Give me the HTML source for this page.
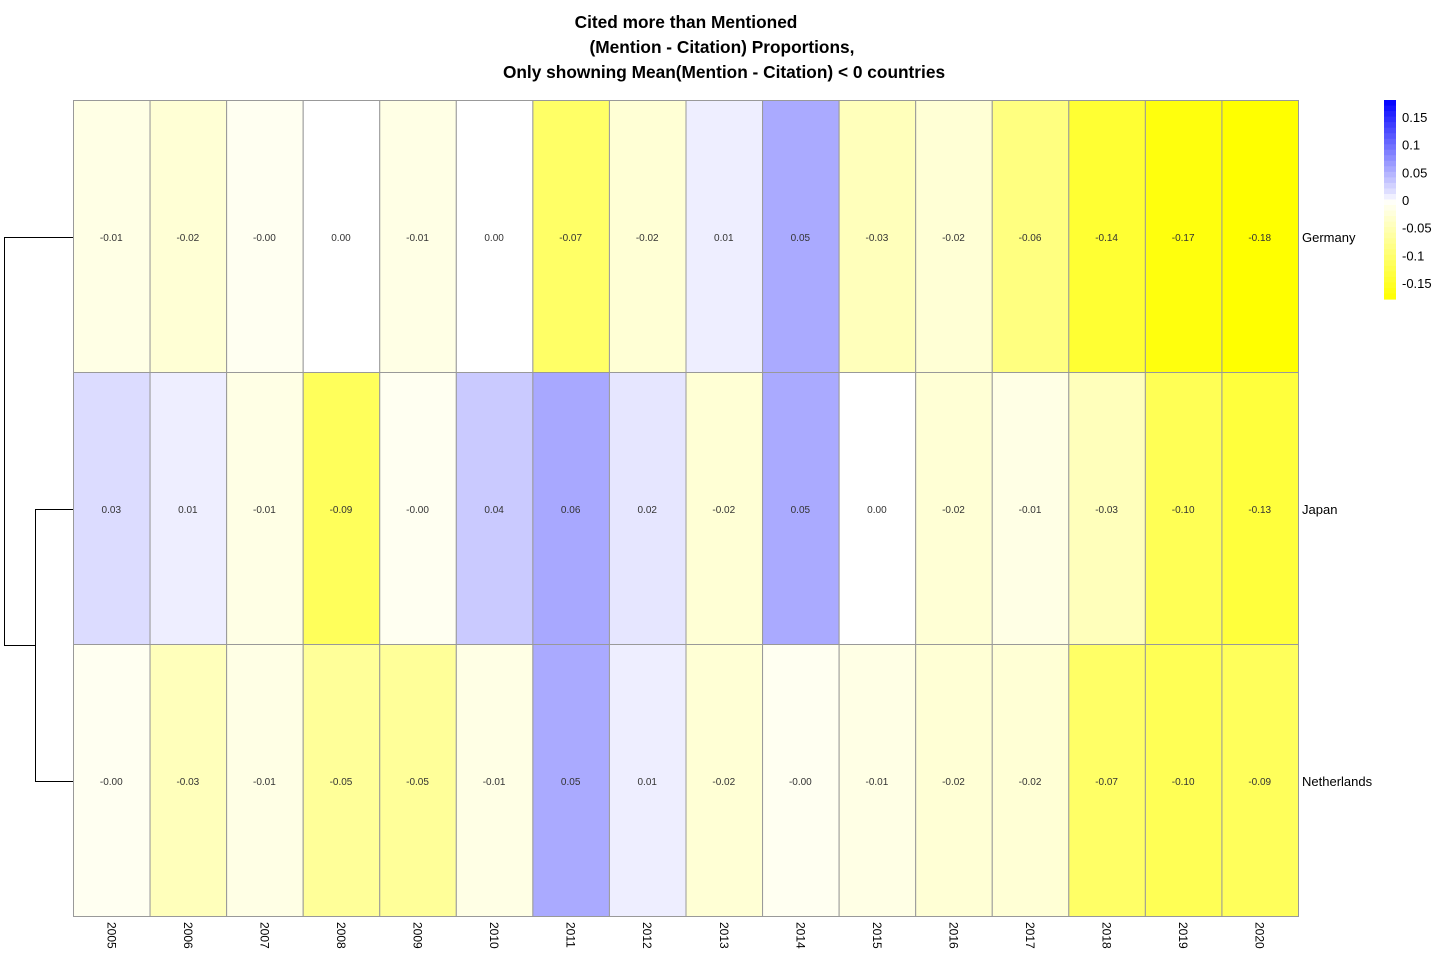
<!DOCTYPE html>
<html><head><meta charset="utf-8"><style>
body{margin:0;background:#fff;width:1440px;height:960px;overflow:hidden}
svg{display:block;font-family:"Liberation Sans",Arial,sans-serif}
</style></head><body>
<svg id="chart" width="1440" height="960">
<g font-weight="bold" font-size="17.3" text-anchor="middle" fill="#000">
<text x="686" y="28">Cited more than Mentioned</text>
<text x="722" y="53">(Mention - Citation) Proportions,</text>
<text x="724" y="78">Only showning Mean(Mention - Citation) &lt; 0 countries</text>
</g>
<g stroke="#000" stroke-width="1" fill="none">
<path d="M73,237.5H4.5V645.5H35.5M73,509.5H35.5V781.5H73"/>
</g>
<g id="cells"></g>
<g id="legend"></g>
</svg>
<script>
const years = ["2005","2006","2007","2008","2009","2010","2011","2012","2013","2014","2015","2016","2017","2018","2019","2020"];
const countries = ["Germany","Japan","Netherlands"];
const germany = ["-0.01","-0.02","-0.00","0.00","-0.01","0.00","-0.07","-0.02","0.01","0.05","-0.03","-0.02","-0.06","-0.14","-0.17","-0.18"];
const japan = ["0.03","0.01","-0.01","-0.09","-0.00","0.04","0.06","0.02","-0.02","0.05","0.00","-0.02","-0.01","-0.03","-0.10","-0.13"];
const netherlands = ["-0.00","-0.03","-0.01","-0.05","-0.05","-0.01","0.05","0.01","-0.02","-0.00","-0.01","-0.02","-0.02","-0.07","-0.10","-0.09"];
const legendTicks = [0.15,0.1,0.05,0,-0.05,-0.1,-0.15];
const legendTickLabels = ["0.15","0.1","0.05","0","-0.05","-0.1","-0.15"];

const NS="http://www.w3.org/2000/svg";
const X0=73,X1=1298,Y0=100,Y1=916;
const cw=(X1-X0)/years.length, ch=(Y1-Y0)/countries.length;
const xScale=i=>X0+i*cw, yScale=j=>Y0+j*ch;
const posT=[[0,255],[0.005,240],[0.015,235],[0.03,220],[0.04,202],[0.05,170],[0.07,165],[0.18,0]];
const negT=[[0,255],[0.005,238],[0.01,229],[0.02,213],[0.03,187],[0.05,153],[0.07,102],[0.1,85],[0.14,51],[0.18,0]];
function interp(t,v){v=Math.min(v,0.18);for(let i=1;i<t.length;i++){if(v<=t[i][0]){const a=t[i-1],b=t[i];return Math.round(a[1]+(b[1]-a[1])*(v-a[0])/(b[0]-a[0]));}}return 0;}
function color(s){const v=parseFloat(s);
 if(s.startsWith("-")){const c=interp(negT,Math.max(-v,0.004));return `rgb(255,255,${c})`;}
 if(v===0)return "#fff";const c=interp(posT,v);return `rgb(${c},${c},255)`;}
const rows=[germany,japan,netherlands];
const g=document.getElementById('cells');
rows.forEach((row,j)=>{row.forEach((val,i)=>{
 const r=document.createElementNS(NS,'rect');
 
 
 r.setAttribute('x',xScale(i)+0.5);r.setAttribute('y',yScale(j)+0.5);
 r.setAttribute('width',cw);r.setAttribute('height',ch);
 r.setAttribute('fill',color(val));r.setAttribute('stroke','#999');r.setAttribute('stroke-width','1');
 g.appendChild(r);
 const t=document.createElementNS(NS,'text');
 
 
 t.setAttribute('x',xScale(i)+cw/2);t.setAttribute('y',yScale(j)+ch/2+5);
 t.setAttribute('text-anchor','middle');t.setAttribute('font-size','10');t.setAttribute('fill','#333');
 t.textContent=val;g.appendChild(t);
});
 const t=document.createElementNS(NS,'text');
 
 
 t.setAttribute('x',1302);t.setAttribute('y',yScale(j)+ch/2+6);t.setAttribute('font-size','13');
 t.textContent=countries[j];g.appendChild(t);
});
years.forEach((y,i)=>{
 const t=document.createElementNS(NS,'text');
 
 
 const cx=xScale(i)+cw/2-4, cy=922;
 t.setAttribute('transform',`translate(${cx},${cy}) rotate(90)`);
 t.setAttribute('font-size','12');t.textContent=y;g.appendChild(t);
});
const L=document.getElementById('legend');
const LY0=100,LY1=299,LX=1384,LW=12;
const ly=v=>200-(v/0.05)*27.7;
const nSteps=36;
for(let k=0;k<nSteps;k++){
 const vTop=0.18-k*0.01, vMid=vTop-0.005;
 const r=document.createElementNS(NS,'rect');
 
 
 const y0=LY0+(LY1-LY0)*k/nSteps;
 r.setAttribute('x',LX);r.setAttribute('y',y0);r.setAttribute('width',LW);r.setAttribute('height',(LY1-LY0)/nSteps+0.6);
 let c;
 if(vMid>0){const cc=Math.round(255*(1-vMid/0.18)*0.95+(vMid<0.01?10:0));c=`rgb(${Math.min(cc,240)},${Math.min(cc,240)},255)`;}
 else{const cc=Math.round(255*(1+vMid/0.18));c=`rgb(255,255,${cc})`;}
 r.setAttribute('fill',c);L.appendChild(r);
}
legendTicks.forEach((v,i)=>{
 const t=document.createElementNS(NS,'text');
 
 
 t.setAttribute('x',1402);t.setAttribute('y',ly(v)+5);t.setAttribute('font-size','13');
 t.textContent=legendTickLabels[i];L.appendChild(t);
});
</script>
</body></html>
